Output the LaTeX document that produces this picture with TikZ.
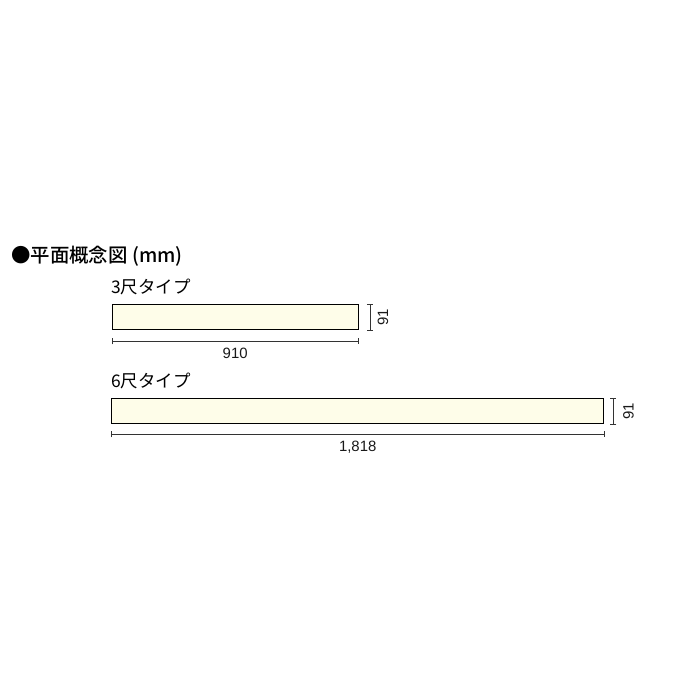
\documentclass[tikz,border=0pt]{standalone}
\usepackage{fontspec}
\setmainfont{Liberation Sans}
\newfontfamily\jpfont{Noto Sans CJK JP}
\newfontfamily\jpfontm{Noto Sans CJK JP Medium}
\usetikzlibrary{arrows.meta}
\definecolor{board}{HTML}{FEFDE9}
\tikzset{
  board/.style={draw=black, line width=1.4bp, fill=board, inner sep=0pt, anchor=north west},
  dimline/.style={draw=black!80, line width=0.8bp, {Bar[width=6bp]}-{Bar[width=6bp]}},
  dimtext/.style={font=\fontsize{15}{15}\selectfont, inner sep=0pt, text=black!90},
  label/.style={font=\jpfont\fontsize{17.5}{17.5}\selectfont, inner sep=0pt, anchor=west}
}
\begin{document}
\begin{tikzpicture}[x=1bp,y=-1bp]
\useasboundingbox (0,0) rectangle (700,700);
\node[font=\jpfontm\fontsize{19.5}{19.5}\selectfont, inner sep=0pt, anchor=west] (title) at (11,256) {●平面概念図 (mm)};
\node[label] (t3) at (111,287) {3尺タイプ};
\node[label] (t6) at (111,381) {6尺タイプ};
\node[board, minimum width=246bp, minimum height=25bp] (r3) at (111.5,304) {};
\node[board, minimum width=492bp, minimum height=25bp] (r6) at (111,398) {};
\coordinate (a1) at ([yshift=-11bp]r3.south west);
\coordinate (a2) at ([yshift=-11bp]r3.south east);
\draw[dimline] (a1) -- (a2) node[dimtext, midway, yshift=-12bp] (d910) {910};
\coordinate (b1) at ([xshift=11bp]r3.north east);
\coordinate (b2) at ([xshift=11bp]r3.south east);
\draw[dimline] (b1) -- (b2) node[dimtext, midway, xshift=13bp, rotate=90] (d91a) {91};
\coordinate (c1) at ([yshift=-10bp]r6.south west);
\coordinate (c2) at ([yshift=-10bp]r6.south east);
\draw[dimline] (c1) -- (c2) node[dimtext, midway, yshift=-13bp] (d1818) {1,818};
\coordinate (e1) at ([xshift=9bp]r6.north east);
\coordinate (e2) at ([xshift=9bp]r6.south east);
\draw[dimline] (e1) -- (e2) node[dimtext, midway, xshift=15bp, rotate=90] (d91b) {91};
\end{tikzpicture}
\end{document}
